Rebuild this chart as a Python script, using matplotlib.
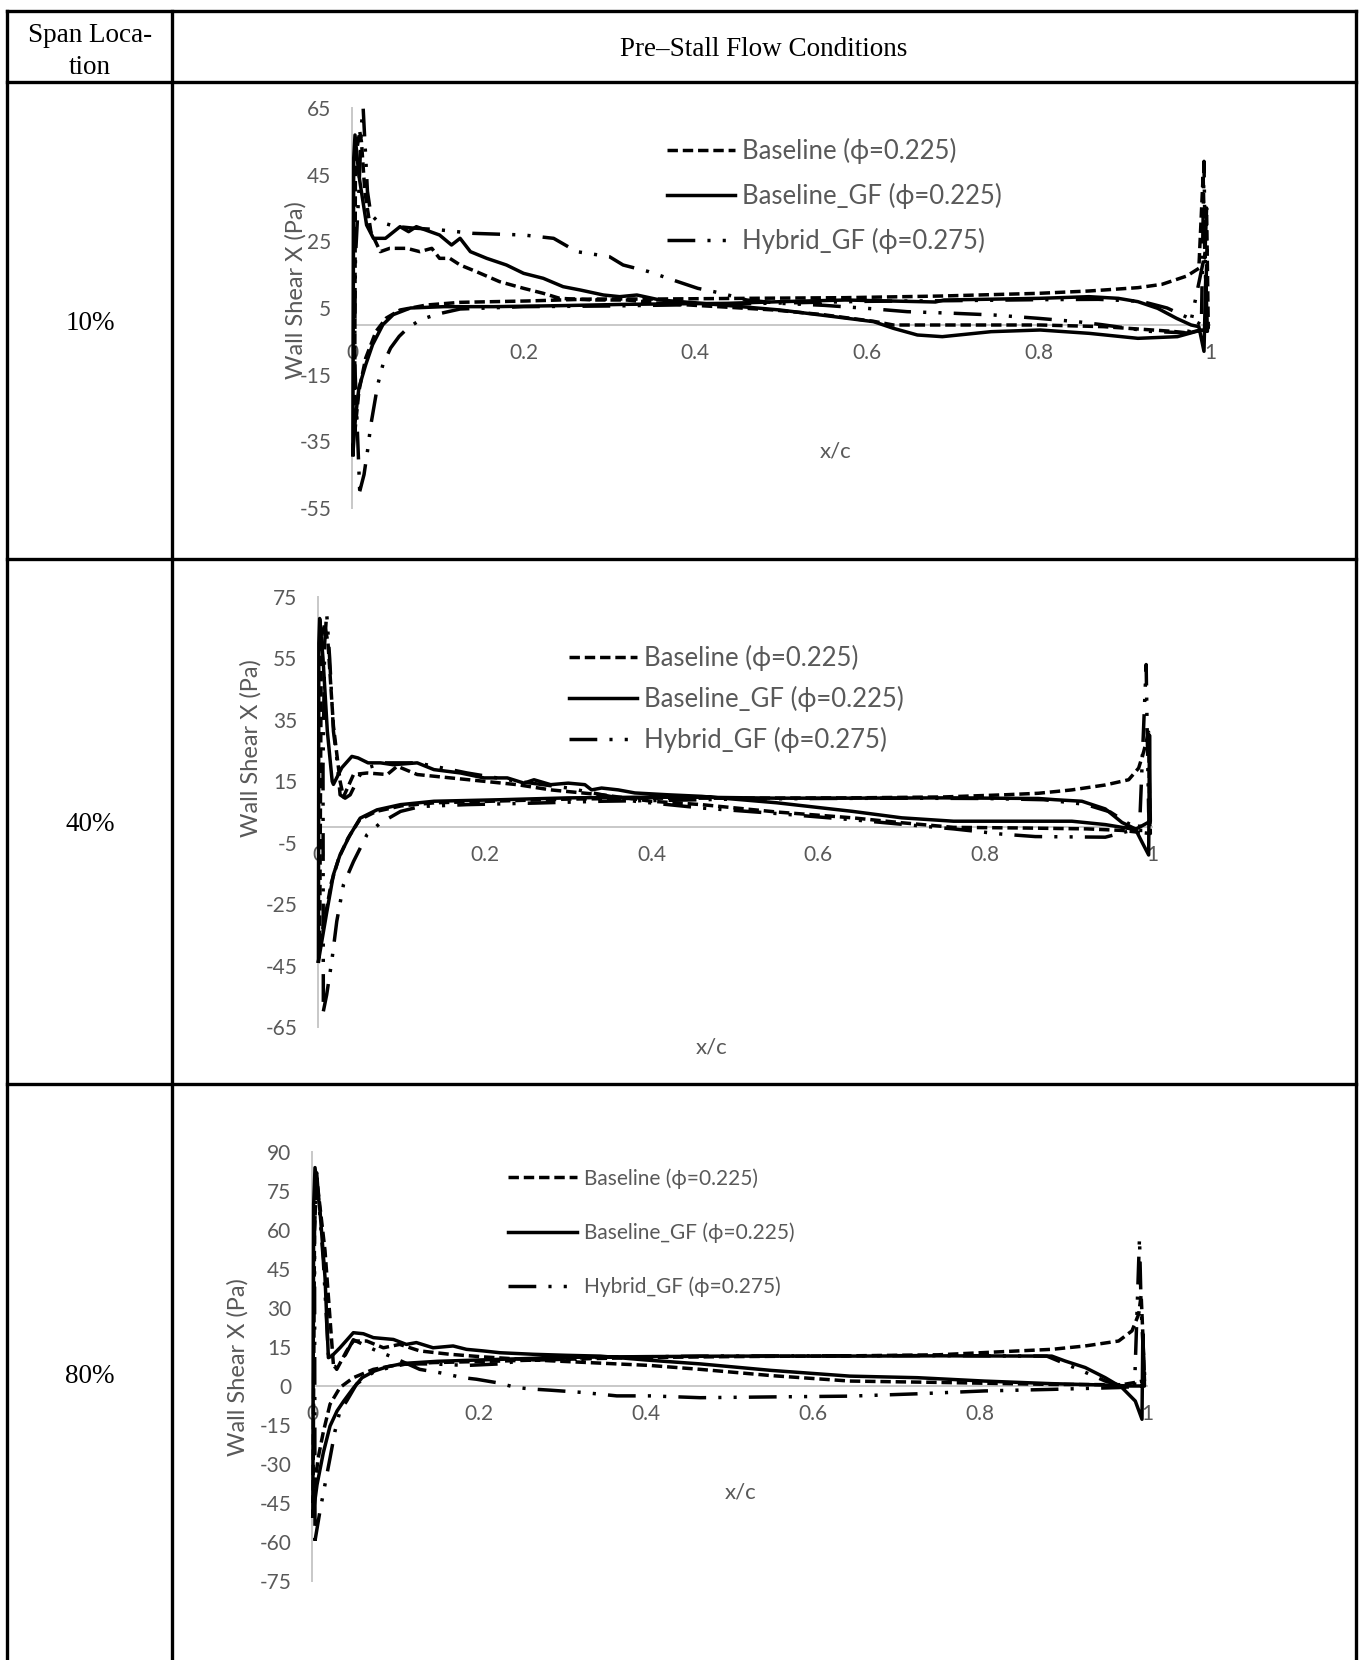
import matplotlib
matplotlib.use("Agg")
import matplotlib.pyplot as plt
from matplotlib.lines import Line2D

plt.rcParams['font.family'] = ['Lato', 'DejaVu Sans']
plt.rcParams['axes.unicode_minus'] = False

W, H = 1362, 1660

# ---------------- data ----------------
span_labels = ["10%", "40%", "80%"]
series_names = ["Baseline (ϕ=0.225)", "Baseline_GF (ϕ=0.225)", "Hybrid_GF (ϕ=0.275)"]
xtick_vals = [0, 0.2, 0.4, 0.6, 0.8, 1]
xtick_labels = ["0", "0.2", "0.4", "0.6", "0.8", "1"]

# 10 % span
c1_base_x = [0.003, 0.008, 0.016, 0.028, 0.04, 0.056, 0.087, 0.126, 0.203, 0.281, 0.359, 0.46, 0.575,
             0.688, 0.8, 0.859, 0.916, 0.944, 0.973, 0.987, 0.992, 0.994, 0.996, 0.998, 0.975, 0.956,
             0.876, 0.802, 0.745, 0.688, 0.631, 0.608, 0.549, 0.492, 0.44, 0.359, 0.32, 0.281, 0.242,
             0.223, 0.2, 0.172, 0.145, 0.126, 0.114, 0.102, 0.093, 0.079, 0.064, 0.044, 0.033, 0.022,
             0.015, 0.011, 0.009, 0.004, 0.003]
c1_base_y = [-33, -20, -10, -2, 2, 4.4, 5.9, 6.7, 7.1, 7.7, 7.7, 7.9, 8.1, 8.6, 9.4, 10.1, 11.1, 12.1,
             14.6, 16.9, 45, 20, 35, -1, -2.5, -2, -0.6, -0.1, -0.1, -0.1, -0.1, 1, 3, 4.4, 5.2, 6.4,
             7.4, 7.4, 7.9, 9.4, 10.9, 12.9, 15.9, 17.9, 19.9, 19.9, 22.9, 21.9, 22.9, 22.9, 21.9, 27.9,
             39.9, 54.9, 58, 50, -33]
c1_gf_x = [0.001, 0.004, 0.008, 0.016, 0.024, 0.036, 0.048, 0.068, 0.107, 0.165, 0.242, 0.32, 0.437,
           0.5, 0.575, 0.68, 0.69, 0.802, 0.859, 0.893, 0.916, 0.939, 0.961, 0.978, 0.987, 0.993, 0.995,
           0.997, 0.99, 0.962, 0.916, 0.859, 0.802, 0.745, 0.688, 0.659, 0.631, 0.608, 0.562, 0.499,
           0.431, 0.359, 0.332, 0.312, 0.293, 0.266, 0.246, 0.223, 0.2, 0.18, 0.157, 0.138, 0.126, 0.116,
           0.102, 0.075, 0.066, 0.056, 0.039, 0.025, 0.017, 0.008, 0.0035, 0.002, 0.001]
c1_gf_y = [-39, -28, -19, -12, -6, 0, 3, 5, 5.4, 5.4, 5.7, 6.1, 6.4, 6.9, 7.4, 6.8, 7.4, 7.9, 8.4, 7.9,
           6.9, 4.9, 1.9, -0.1, -0.6, -8, 14, -2, -1.6, -3.6, -4.1, -2.6, -1.6, -2.1, -3.6, -3.1, -1.1,
           0.9, 2.4, 4.4, 5.9, 7.4, 8.9, 8.4, 8.9, 10.4, 11.4, 13.9, 15.4, 17.9, 19.9, 21.9, 25.9, 23.9,
           26.9, 29.4, 27.9, 29.4, 25.9, 25.9, 29.9, 44.9, 56.9, 50, -39]
c1_hyb_x = [0.009, 0.014, 0.018, 0.022, 0.026, 0.03, 0.036, 0.045, 0.055, 0.065, 0.08, 0.1, 0.126, 0.2,
            0.3, 0.4, 0.5, 0.6, 0.7, 0.8, 0.87, 0.92, 0.95, 0.975, 0.99, 0.993, 0.995, 0.997, 0.975,
            0.93, 0.874, 0.845, 0.8, 0.748, 0.703, 0.647, 0.6, 0.55, 0.5, 0.46, 0.431, 0.403, 0.374,
            0.346, 0.316, 0.3, 0.262, 0.235, 0.2, 0.141, 0.1, 0.07, 0.05, 0.03, 0.022, 0.018, 0.015,
            0.013, 0.011, 0.008, 0.004, 0.003, 0.009]
c1_hyb_y = [-50, -45, -38, -30, -24, -18, -12, -7, -3.5, -1, 1.5, 3.2, 4.7, 5.4, 5.6, 6, 6.5, 7, 7.2,
            7.5, 7.6, 7, 5, 2, 0, 49, 10, 25, -2.5, -2, 0, 0.9, 1.9, 2.9, 3.4, 3.9, 4.9, 5.8, 6.4, 7.4,
            9.4, 10.9, 13.4, 15.9, 17.9, 20.4, 21.9, 25.9, 26.9, 27.4, 28.5, 29, 29.5, 31, 33, 40, 55,
            65, 60, 40, 20, -10, -50]

# 40 % span
c2_base_x = [0.002, 0.008, 0.016, 0.025, 0.036, 0.05, 0.07, 0.1, 0.14, 0.22, 0.3, 0.4, 0.5, 0.64, 0.75,
             0.823, 0.864, 0.904, 0.944, 0.972, 0.984, 0.99, 0.996, 0.997, 0.998, 0.964, 0.922, 0.843,
             0.762, 0.7, 0.641, 0.55, 0.46, 0.4, 0.34, 0.279, 0.239, 0.199, 0.159, 0.119, 0.095, 0.083,
             0.059, 0.0426, 0.0305, 0.0265, 0.0185, 0.012, 0.008, 0.004, 0.002]
c2_base_y = [-38, -30, -18, -10, -3.5, 2.5, 5.2, 7, 8, 8.6, 9.2, 9.5, 9.5, 9.6, 9.9, 10.6, 11.1, 12.2,
             13.8, 15.5, 19.3, 24.6, 31, 10, -2, -1, -0.5, -0.2, 0, 1.5, 3.1, 5, 7.4, 8.5, 10.6, 12.2,
             13.9, 15, 16.1, 17.2, 19.9, 17.2, 17.7, 17.2, 9.9, 15, 33, 60, 66, 62, -38]
c2_gf_x = [0.0005, 0.01, 0.0185, 0.0265, 0.0386, 0.0506, 0.0707, 0.099, 0.139, 0.219, 0.3, 0.38, 0.46,
           0.55, 0.64, 0.75, 0.864, 0.884, 0.916, 0.944, 0.964, 0.98, 0.988, 0.996, 0.997, 0.998, 0.98,
           0.944, 0.904, 0.843, 0.762, 0.7, 0.641, 0.55, 0.46, 0.42, 0.38, 0.36, 0.34, 0.328, 0.32, 0.3,
           0.279, 0.259, 0.247, 0.227, 0.199, 0.171, 0.139, 0.119, 0.09, 0.075, 0.06, 0.048, 0.0406,
           0.0285, 0.0185, 0.017, 0.0112, 0.006, 0.003, 0.002, 0.001, 0.0005]
c2_gf_y = [-43.6, -28.4, -15.4, -8.9, -2.4, 3, 5.7, 7.4, 8.5, 9, 9.6, 9.8, 9.8, 9.5, 9.5, 9.6, 9.4, 9,
           8.5, 6, 1.6, -0.5, -4.8, -9, 30, 2, -0.7, 0.9, 2, 2, 2, 3.1, 5.2, 8, 10.1, 10.6, 11.2, 12.2,
           12.8, 12.2, 13.9, 14.4, 13.9, 15.5, 14.4, 16.1, 16.1, 17.7, 18.8, 21, 20.4, 21, 21, 22.6,
           23.1, 19.4, 14, 15, 31.3, 55, 65, 68, 60, -43.6]
c2_hyb_x = [0.0064, 0.0104, 0.0165, 0.0225, 0.0305, 0.0426, 0.0587, 0.0747, 0.099, 0.123, 0.179, 0.26,
            0.34, 0.42, 0.5, 0.6, 0.7, 0.8, 0.87, 0.92, 0.95, 0.97, 0.985, 0.993, 0.994, 0.996, 0.998,
            0.975, 0.944, 0.86, 0.82, 0.762, 0.7, 0.64, 0.55, 0.46, 0.42, 0.38, 0.3, 0.239, 0.179, 0.119,
            0.079, 0.059, 0.0506, 0.0386, 0.0325, 0.0265, 0.0225, 0.0185, 0.014, 0.0104, 0.008, 0.006,
            0.0064]
c2_hyb_y = [-59.9, -54.5, -43.6, -30.6, -18.7, -11.1, -2.4, 1.4, 5.2, 6.8, 7.4, 7.9, 8.5, 8.8, 9.2, 9.4,
            9.5, 9.4, 9, 7.5, 5, 1.5, -0.5, 53, 35, 5, -1, -1, -3.2, -3, -2.2, -0.5, 1, 2.5, 4.5, 6.3,
            7.4, 8.5, 12.8, 15, 17.7, 21, 21, 19.4, 17.2, 10.6, 9.5, 10.6, 22.6, 31.3, 55, 69.8, 60, 20,
            -59.9]

# 80 % span
c3_base_x = [0.0012, 0.0072, 0.0136, 0.0216, 0.0335, 0.0495, 0.0735, 0.105, 0.145, 0.225, 0.305, 0.385,
             0.5, 0.644, 0.75, 0.846, 0.886, 0.926, 0.966, 0.982, 0.99, 0.993, 0.995, 0.997, 0.97, 0.886,
             0.765, 0.644, 0.55, 0.465, 0.405, 0.345, 0.285, 0.245, 0.205, 0.165, 0.129, 0.105, 0.0855,
             0.0655, 0.0495, 0.0415, 0.0296, 0.0256, 0.0156, 0.0056, 0.003, 0.0012]
c3_base_y = [-45, -28, -17.6, -7, -0.6, 3.2, 6.4, 8.3, 9, 9.6, 10.3, 10.9, 11.3, 11.6, 12, 13.5, 14.1,
             15.4, 17.3, 21.2, 27.6, 35, 20, 2, 0.5, 0.6, 1.3, 1.9, 4, 6.4, 7.9, 8.8, 9.7, 10.4, 11.2,
             12.2, 13.5, 16, 14.7, 17.3, 17.3, 13.5, 6.4, 8.3, 52, 80, 60, -45]
c3_gf_x = [0.001, 0.006, 0.0136, 0.0216, 0.03, 0.038, 0.05, 0.06, 0.075, 0.09, 0.11, 0.15, 0.2, 0.3, 0.4,
           0.5, 0.644, 0.75, 0.886, 0.902, 0.926, 0.95, 0.97, 0.986, 0.994, 0.995, 0.997, 0.98, 0.946,
           0.886, 0.805, 0.725, 0.644, 0.55, 0.465, 0.4, 0.345, 0.305, 0.265, 0.225, 0.205, 0.185, 0.169,
           0.145, 0.125, 0.113, 0.0975, 0.0735, 0.0615, 0.0495, 0.0335, 0.0236, 0.0196, 0.0156, 0.0096,
           0.0036, 0.002, 0.001]
c3_gf_y = [-50, -38, -25.6, -15.4, -9.6, -5.8, -0.6, 3.2, 5.8, 7.4, 8.7, 9.5, 10, 11, 11.3, 11.5, 11.5,
           11.6, 11.5, 9.6, 7.1, 3.2, -0.6, -5.8, -12.8, 20, 0, 0, 0.4, 0.9, 1.9, 3.2, 3.8, 6, 8.5, 10,
           11.5, 11.8, 12.2, 12.8, 13.5, 14.1, 15.4, 14.7, 16.7, 16, 17.9, 18.6, 20.1, 20.5, 14.7, 11.5,
           10.9, 41.7, 67.3, 84, 70, -50]
c3_hyb_x = [0.0036, 0.0096, 0.0156, 0.022, 0.0276, 0.0335, 0.0415, 0.0535, 0.0735, 0.0935, 0.113, 0.145,
            0.185, 0.225, 0.265, 0.345, 0.465, 0.6, 0.75, 0.88, 0.918, 0.95, 0.97, 0.985, 0.991, 0.993,
            0.996, 0.998, 0.966, 0.886, 0.805, 0.725, 0.644, 0.55, 0.465, 0.405, 0.365, 0.325, 0.285,
            0.265, 0.245, 0.221, 0.197, 0.181, 0.153, 0.129, 0.0935, 0.0775, 0.0495, 0.04, 0.0276,
            0.0196, 0.0136, 0.0056, 0.003, 0.0036]
c3_hyb_y = [-59.5, -48, -37.8, -27, -17.3, -9.6, -5.8, 0.8, 5.3, 7.2, 8.5, 8.5, 7.9, 8.5, 10.4, 11, 11.5,
            11.6, 11.7, 11.5, 6.4, 1.9, 0, -1, 57, 30, 10, 0, -0.6, -1.3, -1.9, -3, -3.9, -4.2, -4.5,
            -3.8, -3.8, -2.5, -1.6, -1.2, -0.6, 1.3, 2.6, 3.2, 5.1, 6.4, 11.5, 13.5, 17.8, 12, 7.2, 12.2,
            48, 82, 60, -59.5]

# ---------------- styling ----------------
GRAY_TXT = '#595959'
AXIS_GRAY = '#c8c8c8'
LW = 2.5
TICK_FS = 15
styles = [dict(linestyle=(0, (3.0, 1.4))),
          dict(linestyle='-'),
          dict(linestyle=(0, (8, 3.5, 0.9, 3.5, 0.9, 3.5)))]

fig = plt.figure(figsize=(W / 100, H / 100), dpi=100)

# table grid
def hline(y, x0=7, x1=1356):
    fig.add_artist(Line2D([x0 / W, x1 / W], [1 - y / H, 1 - y / H], transform=fig.transFigure,
                          color='black', lw=2.4, solid_capstyle='projecting'))

def vline(x, y0=11, y1=1665):
    fig.add_artist(Line2D([x / W, x / W], [1 - y0 / H, 1 - y1 / H], transform=fig.transFigure,
                          color='black', lw=2.4, solid_capstyle='projecting'))

for y in [11, 82, 559, 1084]:
    hline(y)
for x in [7, 172, 1356]:
    vline(x)

serif = dict(family='Liberation Serif', fontsize=19.5, color='black', ha='center', va='center')
fig.text(90 / W, 1 - 36 / H, "Span Loca-", **serif)
fig.text(90 / W, 1 - 67 / H, "tion", **serif)
fig.text(764 / W, 1 - 49 / H, "Pre\u2013Stall Flow Conditions", **serif)

# chart panels: pixel geometry
panels = [
    dict(x0=352, x1=1210, ytop=108, ybot=508, ylim=(-55, 65), step=20, row_y=323,
         data=[(c1_base_x, c1_base_y), (c1_gf_x, c1_gf_y), (c1_hyb_x, c1_hyb_y)],
         ylab=(296, 290), xlab=(836, 452),
         leg=dict(x=667, y=138, fs=18.5, hl=2.65, tp=0.25, ls=0.74)),
    dict(x0=318, x1=1152, ytop=597, ybot=1027, ylim=(-65, 75), step=20, row_y=824,
         data=[(c2_base_x, c2_base_y), (c2_gf_x, c2_gf_y), (c2_hyb_x, c2_hyb_y)],
         ylab=(251, 748), xlab=(712, 1048),
         leg=dict(x=569, y=645, fs=18.5, hl=2.65, tp=0.25, ls=0.57)),
    dict(x0=312, x1=1147, ytop=1152, ybot=1581, ylim=(-75, 90), step=15, row_y=1376,
         data=[(c3_base_x, c3_base_y), (c3_gf_x, c3_gf_y), (c3_hyb_x, c3_hyb_y)],
         ylab=(238, 1367), xlab=(741, 1492),
         leg=dict(x=508, y=1168, fs=15, hl=3.3, tp=0.34, ls=1.62)),
]

for p, span in zip(panels, span_labels):
    fig.text(90 / W, 1 - p['row_y'] / H, span, **serif)

    ax = fig.add_axes([p['x0'] / W, 1 - p['ybot'] / H,
                       (p['x1'] - p['x0']) / W, (p['ybot'] - p['ytop']) / H])
    ax.patch.set_visible(False)
    ymin, ymax = p['ylim']
    ax.set_xlim(0, 1)
    ax.set_ylim(ymin, ymax)

    handles = []
    for (xs, ys), st, name in zip(p['data'], styles, series_names):
        line, = ax.plot(xs, ys, color='black', lw=LW, solid_joinstyle='round',
                        dash_joinstyle='round', clip_on=False, label=name, **st)
        handles.append(line)

    for s in ['top', 'right']:
        ax.spines[s].set_visible(False)
    ax.spines['bottom'].set_position(('data', 0))
    ax.spines['left'].set_position(('data', 0))
    for s in ['bottom', 'left']:
        ax.spines[s].set_color(AXIS_GRAY)
        ax.spines[s].set_linewidth(1.4)
        ax.spines[s].set_zorder(0.5)

    ax.set_xticks(xtick_vals)
    ax.set_xticklabels(xtick_labels)
    ax.set_yticks(list(range(ymin, ymax + 1, p['step'])))
    ax.tick_params(axis='both', length=0, labelcolor=GRAY_TXT, labelsize=TICK_FS)
    ax.tick_params(axis='y', pad=15)
    ax.tick_params(axis='x', pad=13)

    fig.text(p['ylab'][0] / W, 1 - p['ylab'][1] / H, "Wall Shear X (Pa)", rotation=90,
             ha='center', va='center', fontsize=17, color=GRAY_TXT)
    fig.text(p['xlab'][0] / W, 1 - p['xlab'][1] / H, "x/c",
             ha='center', va='center', fontsize=16, color=GRAY_TXT)

    lg = p['leg']
    ax.legend(handles=handles, loc='upper left',
              bbox_to_anchor=(lg['x'] / W, 1 - lg['y'] / H), bbox_transform=fig.transFigure,
              frameon=False, borderpad=0, borderaxespad=0, handlelength=lg['hl'],
              handletextpad=lg['tp'], labelspacing=lg['ls'], labelcolor=GRAY_TXT,
              prop=dict(size=lg['fs']))

fig.savefig("out.png", dpi=100)
